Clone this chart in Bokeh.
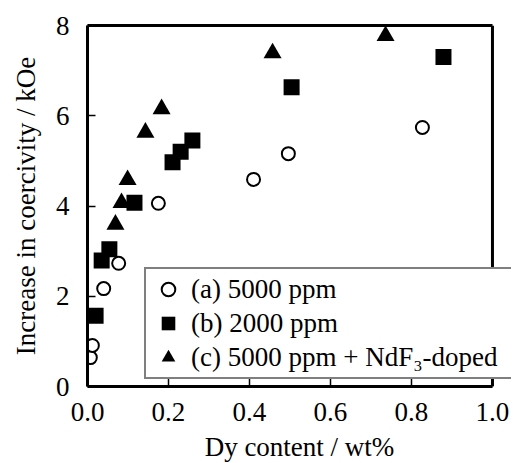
from bokeh.plotting import figure
from bokeh.models import Legend, LegendItem, Range1d, FixedTicker, NumeralTickFormatter, LinearAxis, Span
from bokeh.core.properties import value
from bokeh.embed import file_html
from bokeh.resources import INLINE

# (a) 5000 ppm
a_x = [0.007, 0.012, 0.040, 0.077, 0.175, 0.410, 0.496, 0.827]
a_y = [0.64, 0.91, 2.17, 2.73, 4.06, 4.59, 5.16, 5.74]
# (b) 2000 ppm
b_x = [0.020, 0.035, 0.054, 0.116, 0.210, 0.230, 0.259, 0.504, 0.879]
b_y = [1.57, 2.79, 3.04, 4.07, 4.97, 5.20, 5.45, 6.63, 7.30]
# (c) 5000 ppm + NdF3-doped
c_x = [0.069, 0.084, 0.099, 0.143, 0.183, 0.457, 0.736]
c_y = [3.59, 4.07, 4.58, 5.63, 6.15, 7.39, 7.77]

x_ticks = [0.0, 0.2, 0.4, 0.6, 0.8, 1.0]
y_ticks = [0, 2, 4, 6, 8]
x_min, x_max = 0.0, 1.0
y_min, y_max = 0, 8
labels = ["(a) 5000 ppm", "(b) 2000 ppm", "(c) 5000 ppm + NdF\u2083-doped"]
x_title = "Dy content / wt%"
y_title = "Increase in coercivity / kOe"

FONT = "'Liberation Serif', 'Times New Roman', serif"

# frame is widened on the right so that the legend box can overhang the axes box
p = figure(width=514, height=470, x_range=Range1d(x_min, 1.047), y_range=Range1d(y_min, y_max),
           output_backend="svg", toolbar_location=None,
           min_border_left=87, min_border_right=3, min_border_top=25, min_border_bottom=84)
p.xgrid.visible = False
p.ygrid.visible = False
p.outline_line_color = None
p.background_fill_color = "white"
p.border_fill_color = "white"

rb = p.scatter(b_x, b_y, marker="square", size=16, fill_color="black", line_color="black", line_width=0)
rc = p.scatter(c_x, c_y, marker="triangle", size=18, fill_color="black", line_color="black", line_width=0)
ra = p.scatter(a_x, a_y, marker="circle", size=13, fill_color="white", line_color="black", line_width=2)

xa = p.below[0]
ya = p.left[0]

top_axis = LinearAxis(ticker=FixedTicker(ticks=[]), bounds=(x_min, x_max))
top_axis.major_label_text_font_size = "0px"
p.add_layout(top_axis, "above")

for ax in (xa, ya, top_axis):
    ax.axis_line_width = 3
    ax.axis_line_color = "black"
    ax.major_tick_in = 8
    ax.major_tick_out = 0
    ax.major_tick_line_width = 1.5
    ax.major_tick_line_color = "black"
    ax.minor_tick_line_color = None
    ax.major_label_text_font = FONT
    ax.major_label_text_color = "black"
    ax.axis_label_text_font = FONT
    ax.axis_label_text_font_size = "27px"
    ax.axis_label_text_font_style = "normal"
    ax.axis_label_text_color = "black"
for ax in (xa, ya):
    ax.major_label_text_font_size = "27px"

xa.ticker = FixedTicker(ticks=x_ticks)
xa.formatter = NumeralTickFormatter(format="0.0")
xa.bounds = (x_min, x_max)
xa.axis_label = x_title
xa.major_label_standoff = 16
xa.axis_label_standoff = 8

ya.ticker = FixedTicker(ticks=y_ticks)
ya.axis_label = y_title
ya.major_label_standoff = 18
ya.axis_label_standoff = 12

p.add_layout(Span(location=x_max, dimension="height", line_color="black", line_width=3))

legend = Legend(items=[LegendItem(label=value(labels[0]), renderers=[ra]),
                       LegendItem(label=value(labels[1]), renderers=[rb]),
                       LegendItem(label=value(labels[2]), renderers=[rc])],
                location=(57, 7))
legend.glyph_width = 38
legend.glyph_height = 34
legend.spacing = 0
legend.padding = 3
legend.margin = 0
legend.label_standoff = 4
legend.label_width = 318
legend.label_height = 30
legend.label_text_font = FONT
legend.label_text_font_size = "27px"
legend.label_text_color = "black"
legend.border_line_color = "black"
legend.border_line_width = 2
legend.background_fill_color = "white"
legend.background_fill_alpha = 1.0
p.add_layout(legend, "center")

open("out.html", "w").write(file_html(p, INLINE))
